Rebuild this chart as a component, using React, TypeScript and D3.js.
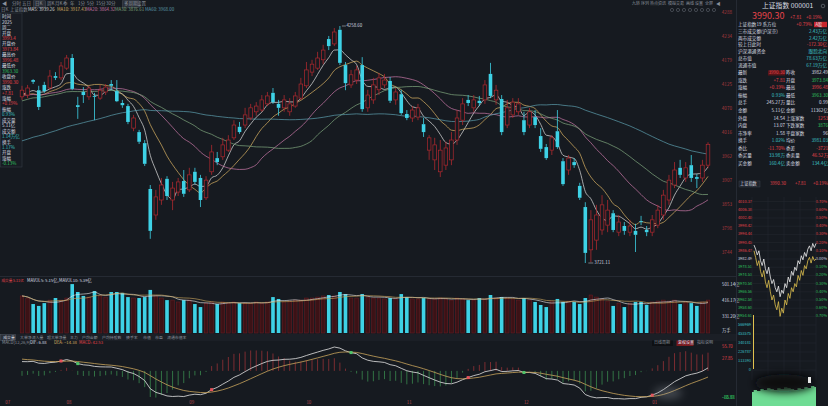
import React from "react";
import * as d3 from "d3";

const W = 828;
const H = 406;
const FONT = "'Noto Sans CJK SC', 'Noto Sans', sans-serif";

// daily candles: [open, high, low, close]
const ohlc: [number, number, number, number][] = [
  [4098, 4123, 4091, 4113], [4102, 4125, 4095, 4118], [4136, 4138, 4127, 4132], [4113, 4123, 4068, 4075],
  [4125, 4132, 4107, 4111], [4118, 4159, 4113, 4145], [4145, 4154, 4136, 4141], [4141, 4177, 4136, 4168],
  [4163, 4193, 4159, 4186], [4186, 4195, 4113, 4116], [4079, 4098, 4048, 4075], [4109, 4120, 4084, 4102],
  [4098, 4123, 4091, 4118], [4100, 4107, 4045, 4098], [4095, 4125, 4091, 4113], [4109, 4127, 4102, 4120],
  [4127, 4136, 4113, 4123], [4111, 4136, 4086, 4088], [4084, 4091, 4073, 4079], [4077, 4082, 4036, 4041],
  [4027, 4057, 4020, 4050], [4018, 4023, 3991, 3996], [3993, 4000, 3941, 3946], [3889, 3898, 3776, 3794],
  [3830, 3887, 3819, 3871], [3864, 3914, 3853, 3898], [3912, 3918, 3864, 3873], [3864, 3905, 3841, 3891],
  [3882, 3914, 3873, 3905], [3907, 3932, 3871, 3878], [3887, 3937, 3882, 3921], [3928, 3937, 3900, 3905],
  [3914, 3921, 3848, 3864], [3869, 3918, 3864, 3909], [3928, 3989, 3921, 3973], [3959, 3973, 3943, 3950],
  [3962, 4005, 3955, 3989], [3977, 4011, 3973, 4000], [4005, 4045, 4000, 4034], [4030, 4041, 4014, 4018],
  [4034, 4073, 4027, 4057], [4050, 4082, 4045, 4073], [4064, 4086, 4055, 4077], [4068, 4102, 4064, 4091],
  [4082, 4109, 4077, 4100], [4107, 4118, 4082, 4086], [4082, 4091, 4055, 4073], [4073, 4102, 4064, 4091],
  [4064, 4095, 4055, 4082], [4077, 4109, 4073, 4100], [4095, 4141, 4091, 4127], [4123, 4177, 4118, 4159],
  [4154, 4182, 4145, 4172], [4163, 4200, 4159, 4186], [4182, 4216, 4172, 4204], [4229, 4236, 4204, 4213],
  [4218, 4254, 4213, 4245], [4250, 4258.6, 4170, 4175], [4170, 4177, 4113, 4129], [4125, 4159, 4118, 4148],
  [4136, 4168, 4127, 4159], [4170, 4188, 4064, 4070], [4073, 4114, 4064, 4102], [4091, 4141, 4082, 4125],
  [4114, 4152, 4102, 4141], [4125, 4150, 4118, 4136], [4134, 4143, 4084, 4089], [4091, 4118, 4080, 4109],
  [4104, 4114, 4057, 4061], [4059, 4068, 4045, 4050], [4050, 4077, 4041, 4068], [4052, 4082, 4045, 4073],
  [4036, 4050, 4007, 4018], [3977, 4011, 3955, 4005], [3955, 4005, 3932, 3989], [3928, 4000, 3916, 3977],
  [3943, 3996, 3932, 3982], [3955, 4018, 3943, 4000], [4000, 4068, 3989, 4050], [4045, 4095, 4034, 4082],
  [4091, 4102, 4077, 4084], [4073, 4102, 4064, 4091], [4089, 4100, 4077, 4084], [4091, 4136, 4082, 4125],
  [4150, 4175, 4095, 4100], [4091, 4125, 4080, 4113], [4093, 4102, 4011, 4018], [4034, 4091, 4027, 4073],
  [4057, 4095, 4050, 4086], [4064, 4095, 4057, 4082], [4045, 4064, 4011, 4018], [4034, 4073, 4027, 4064],
  [4052, 4068, 4027, 4034], [4009, 4027, 3973, 3980], [3984, 3991, 3955, 3959], [3977, 4011, 3966, 4005],
  [4020, 4068, 3980, 3984], [3952, 3959, 3896, 3900], [3932, 3966, 3921, 3959], [3950, 3959, 3937, 3943],
  [3896, 3903, 3864, 3869], [3848, 3859, 3721.11, 3744], [3751, 3841, 3723, 3819], [3773, 3853, 3751, 3830],
  [3796, 3875, 3785, 3853], [3807, 3864, 3791, 3841], [3834, 3841, 3791, 3796], [3791, 3830, 3782, 3814],
  [3805, 3814, 3785, 3794], [3791, 3819, 3782, 3805], [3794, 3810, 3746, 3785], [3816, 3828, 3807, 3814],
  [3796, 3805, 3782, 3791], [3791, 3830, 3782, 3819], [3807, 3853, 3800, 3841], [3830, 3887, 3819, 3875],
  [3864, 3921, 3853, 3909], [3898, 3950, 3891, 3932], [3937, 3955, 3914, 3921], [3914, 3950, 3905, 3937],
  [3943, 3966, 3905, 3914], [3916, 3923, 3891, 3912], [3914, 3955, 3905, 3943], [3943, 3995, 3936, 3990.3],
];

// closes before the visible window (used only to warm up MA / MACD)
const preHistoryCloses: number[] = [
  3872, 3885, 3868, 3890, 3902, 3895, 3911, 3906, 3920, 3914,
  3898, 3905, 3923, 3930, 3918, 3909, 3894, 3902, 3915, 3928,
  3910, 3896, 3884, 3893, 3905, 3899, 3912, 3921, 3908, 3915,
  3968, 4012, 4035, 4058, 4049, 4066, 4071, 4082,
  4088, 4095, 4079, 4102, 4110, 4097, 4085, 4093, 4106, 4118,
  4101, 4089, 4096, 4112, 4120, 4104, 4091, 4086, 4099, 4108, 4095, 4103,
];

const volumes: number[] = [
  443, 432, 400, 390, 405, 421, 432, 421, 432, 506,
  464, 443, 437, 469, 443, 437, 464, 464, 459, 437,
  432, 432, 437, 475, 443, 432, 421, 421, 411, 421,
  421, 400, 384, 405, 411, 400, 411, 405, 411, 405,
  405, 405, 411, 405, 411, 437, 427, 411, 416, 421,
  421, 432, 432, 437, 443, 448, 443, 464, 453, 432,
  432, 453, 437, 432, 432, 427, 432, 427, 453, 437,
  427, 427, 432, 427, 427, 432, 427, 421, 432, 427,
  421, 421, 432, 427, 448, 432, 437, 432, 427, 421,
  432, 421, 411, 395, 384, 416, 427, 411, 416, 411,
  400, 432, 448, 437, 427, 416, 390, 405, 384, 405,
  411, 411, 395, 411, 416, 421, 416, 421, 400, 411,
  405, 390, 411, 421,
];
const volBase = 246.2;
const volTicks = [501.14, 416.17, 331.2];
const volTickLabels = ["501.14亿", "416.17亿", "331.20亿", "万手"];

const priceTicks = [4288.1, 4233.7, 4179.2, 4124.8, 4070.4, 4015.9, 3961.5, 3907.1, 3852.7, 3798.2, 3743.8];

const xTickIdx = [-3, 8, 30, 51, 69, 90, 113];
const xTickLabels = ["07", "08", "09", "10", "11", "12", "01"];

const maPeriods = [5, 10, 20, 30, 60];
const maColors = ["#dedede", "#d6b062", "#c777a6", "#7ea47c", "#5b9cab"];

const volMaPeriods = [5, 10];
const volMaColors = ["#e6e6e6", "#c9a45c"];

// intraday (percent change vs. previous close)
const prevClose = 3982.49;
const intradayWhite = [0.17, 0.12, 0.05, 0.1, -0.02, -0.08, 0.0, -0.12, -0.18, -0.1, -0.22, -0.3, -0.25, -0.35, -0.4, -0.33, -0.46, -0.38, -0.42, -0.3, -0.35, -0.22, -0.28, -0.15, -0.2, -0.1, -0.14, -0.02, -0.06, 0.04, -0.01, 0.08, 0.03, 0.12, 0.16, 0.1, 0.19, 0.14, 0.19];
const intradayYellow = [0.1, 0.02, -0.08, -0.02, -0.15, -0.22, -0.14, -0.28, -0.35, -0.26, -0.4, -0.5, -0.44, -0.56, -0.62, -0.52, -0.7, -0.6, -0.66, -0.5, -0.56, -0.42, -0.48, -0.35, -0.4, -0.3, -0.34, -0.2, -0.26, -0.14, -0.2, -0.08, -0.12, -0.02, 0.02, -0.05, 0.03, -0.02, 0.0];
const intradayPctTicks = [0.7, 0.6, 0.5, 0.4, 0.3, 0.2, 0.1, 0, -0.1, -0.2, -0.3, -0.4, -0.5, -0.6, -0.7];
const bottomGreen = [14, 16, 15, 17, 16, 18, 17, 16, 18, 17, 19, 18, 17, 16, 18, 17, 19, 18, 20, 19];

const leftPanelRows: [string, string][] = [
  ["时间", "w"], ["2025", "w"], ["周二", "w"], ["开盘", "w"], ["3993.4", "r"], ["开盘价", "w"], ["3973.84", "r"],
  ["最高价", "w"], ["3996.48", "r"], ["最低价", "w"], ["3963.30", "g"], ["收盘价", "w"], ["3990.30", "r"],
  ["涨跌", "w"], ["+7.81", "r"], ["涨幅", "w"], ["+0.19%", "r"], ["振幅", "w"], ["0.93%", "c"], ["成交量", "w"],
  ["5.11亿", "w"], ["成交额", "w"], ["1.14万亿", "c"], ["换手", "w"], ["1.17%", "c"], ["开盘", "w"], ["涨幅", "w"], ["-0.13%", "g"],
];

const toolbarItems = ["分时", "五日", "日K", "周K", "月K", "季", "年", "1分", "5分", "15分", "30分", "多周期", "设置"];
const toolbarRight = ["九转", "序列", "热点资讯", "模拟交易", "画线", "设置", "全屏"];

const tabItems = ["成交量", "大单净流入量", "超大单净量", "主力", "户均金额", "户均持股数", "换手率", "市值", "市盈", "流通市值率"];

const quoteTop: [string, string, string][] = [
  ["上证指数19 系方位", "+0.79%", "r"],
  ["三市成交额(沪深京)", "2.43万亿", "c"],
  ["两市成交额", "2.42万亿", "c"],
  ["较上日此时", "-172.30亿", "r"],
  ["沪深港通资金", "跟踪北向", "c"],
  ["总市值", "78.63万亿", "c"],
  ["流通市值", "67.19万亿", "c"],
];
const quoteGrid: [string, string, string, string, string, string][] = [
  ["最新", "3990.30", "r", "昨收", "3982.49", "w"],
  ["涨跌", "+7.81", "r", "开盘", "3973.84", "g"],
  ["涨幅", "+0.19%", "r", "最高", "3996.48", "r"],
  ["振幅", "0.93%", "c", "最低", "3963.30", "g"],
  ["总手", "245.27万", "w", "量比", "0.99", "w"],
  ["金额", "5.11亿", "w", "金额", "11362亿", "w"],
  ["外盘", "14.54", "w", "上涨家数", "1253", "r"],
  ["内盘", "13.07", "w", "下跌家数", "3876", "g"],
  ["市净率", "1.58", "w", "平盘家数", "96", "w"],
  ["换手", "1.02%", "c", "均价", "3981.03", "c"],
  ["委比", "-11.70%", "r", "委差", "-3721", "r"],
  ["委买量", "33.98万", "c", "委卖量", "46.52万", "r"],
  ["买金额", "160.4亿", "c", "卖金额", "134.4亿", "c"],
];
const intradayVolLabels = ["566969", "453575", "340181", "226787", "113393", "0"];

const BG = "#161a20";
const RED = "#e5434a";
const CANDLE_RED = "#b0292f";
const GREEN = "#2fc05f";
const CYAN = "#3ed2e6";
const WHITE = "#d9dce1";
const GRAY = "#8b919b";
const TEAL = "#3cc2c8";
const colorOf = (c: string) => (c === "r" ? RED : c === "g" ? GREEN : c === "c" ? TEAL : WHITE);

function sma(all: number[], offset: number, p: number, n: number) {
  const out: number[] = [];
  for (let i = 0; i < n; i++) {
    const end = offset + i;
    const start = Math.max(0, end - p + 1);
    out.push(d3.mean(all.slice(start, end + 1)) as number);
  }
  return out;
}

const T = (p: any) => (
  <text fontFamily={FONT} fontSize={p.fs ?? 4.8} fill={p.fill ?? WHITE} x={p.x} y={p.y} textAnchor={p.anchor ?? "start"} dominantBaseline="middle" fontWeight={p.bold ? 700 : 400}>
    {p.children}
  </text>
);

export default function App() {
  const N = ohlc.length;
  const closes = ohlc.map((d) => d[3]);
  const x = d3.scaleLinear().domain([0, N - 1]).range([22, 708]);
  const pLow = d3.min(ohlc, (d) => d[2]) as number;
  const pHigh = d3.max(ohlc, (d) => d[1]) as number;
  const y = d3.scaleLinear().domain([pLow, pHigh]).range([263, 26]);
  const bw = 3.6;

  const all = preHistoryCloses.concat(closes);
  const mas = maPeriods.map((p) => sma(all, preHistoryCloses.length, p, N));
  const maLine = d3.line<number>().x((_, i) => x(i)).y((v) => y(v)).curve(d3.curveMonotoneX);

  // volume
  const vy = d3.scaleLinear().domain([volBase, volTicks[0]]).range([333, 285]);
  const volMas = volMaPeriods.map((p) => sma(volumes, 0, p, N));
  const volLine = d3.line<number>().x((_, i) => x(i)).y((v) => vy(v)).curve(d3.curveMonotoneX);

  // MACD
  let e12 = all[0], e26 = all[0], dea = 0;
  const difA: number[] = [], deaA: number[] = [];
  all.forEach((c, k) => {
    if (k > 0) {
      e12 = (e12 * 11) / 13 + (c * 2) / 13;
      e26 = (e26 * 25) / 27 + (c * 2) / 27;
    }
    const dif = e12 - e26;
    dea = (dea * 8) / 10 + (dif * 2) / 10;
    difA.push(dif);
    deaA.push(dea);
  });
  const dif = difA.slice(preHistoryCloses.length);
  const deaV = deaA.slice(preHistoryCloses.length);
  const bar = dif.map((d, i) => 2 * (d - deaV[i]));
  const mExt = d3.extent([...dif, ...deaV, ...bar]) as [number, number];
  const my = d3.scaleLinear().domain(mExt).range([399, 347]);
  const mLine = d3.line<number>().x((_, i) => x(i)).y((v) => my(v));
  const crosses: { i: number; up: boolean }[] = [];
  for (let i = 1; i < N; i++) {
    const a = dif[i - 1] - deaV[i - 1], b = dif[i] - deaV[i];
    if (a < 0 && b >= 0) crosses.push({ i, up: true });
    if (a > 0 && b <= 0) crosses.push({ i, up: false });
  }

  const f2 = d3.format(".2f");
  const hiIdx = ohlc.findIndex((d) => d[1] === pHigh);
  const loIdx = ohlc.findIndex((d) => d[2] === pLow);

  // intraday
  const ix = d3.scaleLinear().domain([0, intradayWhite.length - 1]).range([754, 816]);
  const iy = d3.scaleLinear().domain([-0.7, 0.7]).range([316.4, 201.6]);
  const iLine = d3.line<number>().x((_, i) => ix(i)).y((v) => iy(v));
  const gx = d3.scaleLinear().domain([0, bottomGreen.length - 1]).range([752, 816]);
  const gArea = d3.area<number>().x((_, i) => gx(i)).y0(406).y1((v) => 406 - v).curve(d3.curveStep);

  const toolbarX = [12, 22, 35, 47, 55, 63, 70, 78, 87, 96, 106, 124, 137];
  const toolbarRX = [632, 641, 650, 668, 686, 695, 705];
  const tabX = [2, 20, 47, 70, 82, 102, 126, 143, 155, 167];
  const maLegendX = [28, 57, 86, 115, 145];

  return (
    <div style={{ position: "fixed", left: 0, top: 0, width: W, height: H }}>
      <svg width={W} height={H} viewBox={`0 0 ${W} ${H}`} style={{ display: "block", background: BG }}>
        <defs>
          <filter id="blur4" x="-50%" y="-50%" width="200%" height="200%">
            <feGaussianBlur stdDeviation="4" />
          </filter>
        </defs>
        <rect x={0} y={0} width={W} height={H} fill={BG} />

        {/* top toolbar */}
        <T x={2} y={4} fill={GRAY} fs={5}>◀</T>
        {toolbarItems.map((t, i) => (
          <g key={"tb" + i}>
            {(t === "日K" || t === "多周期") && <rect x={toolbarX[i] - 1.5} y={0.8} width={t.length * 4.6 + 3} height={6.4} fill="#2b3038" stroke="#555b66" strokeWidth={0.4} />}
            <T x={toolbarX[i]} y={4} fill={GRAY} fs={4.5}>{t}</T>
          </g>
        ))}
        {toolbarRight.map((t, i) => (
          <T key={"tr" + i} x={toolbarRX[i]} y={3.5} fill={GRAY} fs={4}>{t}</T>
        ))}
        <T x={716} y={3.5} fill={GRAY} fs={4.5}>◀</T>
        {[672, 678, 684, 690, 696, 702, 708, 714].map((cx, i) => (
          <circle key={"ic" + i} cx={cx} cy={10} r={1.6} fill="none" stroke="#6d737d" strokeWidth={0.5} />
        ))}

        {/* MA legend */}
        <T x={1} y={10} fill={GRAY} fs={4.4}>日K</T>
        <T x={10} y={10} fill={GRAY} fs={4.4}>上证指数</T>
        {maPeriods.map((p, k) => (
          <T key={"ml" + k} x={maLegendX[k]} y={10} fill={maColors[k]} fs={4.4}>{`MA${p}: ${f2(mas[k][N - 1])}`}</T>
        ))}

        {/* left info panel */}
        <rect x={0.5} y={13} width={21.5} height={154} fill="#181c23" stroke="#3a404a" strokeWidth={0.5} />
        {leftPanelRows.map(([t, c], i) => (
          <T key={"lp" + i} x={2} y={17 + i * 5.45} fill={colorOf(c)} fs={4.5}>{t}</T>
        ))}

        {/* moving averages */}
        {mas.map((m, k) => (
          <path key={"ma" + k} d={maLine(m) as string} fill="none" stroke={maColors[k]} strokeWidth={0.8} opacity={0.9} />
        ))}

        {/* candles */}
        {ohlc.map(([o, h, l, c], i) => {
          const up = c >= o;
          const col = up ? CANDLE_RED : CYAN;
          const top = y(Math.max(o, c));
          const bot = y(Math.min(o, c));
          const cx = x(i);
          return (
            <g key={"c" + i}>
              <line x1={cx} x2={cx} y1={y(h)} y2={top} stroke={col} strokeWidth={0.8} />
              <line x1={cx} x2={cx} y1={bot} y2={y(l)} stroke={col} strokeWidth={0.8} />
              {up ? (
                <rect x={cx - bw / 2} y={top} width={bw} height={Math.max(0.8, bot - top)} fill={BG} stroke={col} strokeWidth={0.7} />
              ) : (
                <rect x={cx - bw / 2} y={top} width={bw} height={Math.max(0.9, bot - top)} fill={col} />
              )}
            </g>
          );
        })}

        {/* high / low markers */}
        <line x1={x(hiIdx) + 2} x2={x(hiIdx) + 6} y1={y(pHigh)} y2={y(pHigh)} stroke={WHITE} strokeWidth={0.5} />
        <T x={x(hiIdx) + 6.5} y={y(pHigh)} fs={4.4} fill={WHITE}>{f2(pHigh)}</T>
        <line x1={x(loIdx) + 3} x2={x(loIdx) + 8} y1={y(pLow)} y2={y(pLow)} stroke={WHITE} strokeWidth={0.5} />
        <T x={x(loIdx) + 9} y={y(pLow)} fs={4.4} fill={WHITE}>{f2(pLow)}</T>

        {/* price axis labels */}
        {priceTicks.map((v, i) => (
          <T key={"pt" + i} x={732} y={y(v)} anchor="end" fill="#a8393d" fs={4.6}>{d3.format(".0f")(v)}</T>
        ))}

        {/* separators */}
        <line x1={0} x2={736} y1={276.5} y2={276.5} stroke="#2a2f38" strokeWidth={0.8} />

        {/* volume panel */}
        <T x={1.5} y={281} fill={RED} fs={3.6}>成交量 5.11亿</T>
        <T x={27} y={281} fill={WHITE} fs={4.2}>MAVOL5: 5.15亿,</T>
        <T x={59} y={281} fill={WHITE} fs={4.2}>MAVOL10: 5.39亿</T>
        {volumes.map((v, i) => {
          const [o, , , c] = ohlc[i];
          const up = c >= o;
          const top = vy(v);
          return up ? (
            <rect key={"v" + i} x={x(i) - bw / 2} y={top} width={bw} height={vy(volBase) - top} fill="#3b1216" stroke="#6e1f24" strokeWidth={0.5} />
          ) : (
            <rect key={"v" + i} x={x(i) - bw / 2} y={top} width={bw} height={vy(volBase) - top} fill={CYAN} />
          );
        })}
        {volMas.map((m, k) => (
          <path key={"vm" + k} d={volLine(m) as string} fill="none" stroke={volMaColors[k]} strokeWidth={0.7} opacity={0.9} />
        ))}
        {volTicks.map((v, i) => (
          <T key={"vt" + i} x={722} y={vy(v)} fill={WHITE} fs={4.3}>{volTickLabels[i]}</T>
        ))}
        <T x={722} y={vy(volBase) - 2} fill={WHITE} fs={4.3}>{volTickLabels[3]}</T>

        {/* tabs */}
        <rect x={0} y={334} width={736} height={7} fill="#1b1f26" />
        {tabItems.map((t, i) => (
          <g key={"tab" + i}>
            {i === 0 && <rect x={0.5} y={334.5} width={15} height={6} fill="#2b3038" stroke="#5b616c" strokeWidth={0.4} />}
            <T x={tabX[i] + (i === 0 ? 1.2 : 0)} y={337.6} fill={i === 0 ? WHITE : GRAY} fs={3.9}>{t}</T>
          </g>
        ))}
        <rect x={652} y={340.5} width={21} height={5.5} fill="#0e1014" />
        <T x={654} y={343.3} fill={GRAY} fs={4}>日线周期</T>
        <rect x={676.5} y={340.5} width={17} height={5.5} fill="#7a1a1d" />
        <T x={678} y={343.3} fill={WHITE} fs={4}>复权设置</T>
        <T x={697} y={343.3} fill={GRAY} fs={4}>指标说明</T>

        {/* MACD */}
        <T x={2} y={343} fill={GRAY} fs={4.2}>MACD(12,26,9)</T>
        <T x={30} y={343} fill={WHITE} fs={4.2}>{`DIF: ${f2(dif[N - 1])}`}</T>
        <T x={54} y={343} fill="#d6b062" fs={4.2}>{`DEA: ${f2(deaV[N - 1])}`}</T>
        <T x={79} y={343} fill={bar[N - 1] >= 0 ? RED : GREEN} fs={4.2}>{`MACD: ${f2(bar[N - 1])}`}</T>
        {bar.map((b, i) => (
          <line key={"mb" + i} x1={x(i)} x2={x(i)} y1={my(0)} y2={my(b)} stroke={b >= 0 ? "#a8353a" : "#3f9a55"} strokeWidth={0.7} />
        ))}
        <path d={mLine(dif) as string} fill="none" stroke="#e3e3e3" strokeWidth={0.8} />
        <path d={mLine(deaV) as string} fill="none" stroke="#c9a45c" strokeWidth={0.8} />
        {crosses.map((c, k) => (
          <rect key={"cr" + k} x={x(c.i) - 1.5} y={my(dif[c.i]) - 1.5} width={3} height={3} fill={c.up ? "#e5525a" : "#4fc46a"} />
        ))}
        <T x={722} y={my(mExt[1])} fill={RED} fs={4.3}>{f2(mExt[1])}</T>
        <T x={722} y={my(mExt[1] / 2)} fill={RED} fs={4.3}>{f2(mExt[1] / 2)}</T>
        <T x={722} y={my(mExt[0]) - 1} fill={GREEN} fs={4.3}>{f2(mExt[0])}</T>
        <ellipse cx={668} cy={393} rx={14} ry={6} fill="#9aa0a8" opacity={0.35} filter="url(#blur4)" />

        {/* x axis */}
        {xTickIdx.map((idx, k) => (
          <T key={"xt" + k} x={x(idx)} y={402.5} fill="#b5484d" fs={4.4}>{xTickLabels[k]}</T>
        ))}

        {/* right panel */}
        <line x1={736.5} x2={736.5} y1={0} y2={H} stroke="#2a2f38" strokeWidth={0.8} />
        <text x={762} y={6} fontFamily={FONT} fontSize={6.8} fill={WHITE} dominantBaseline="middle">上证指数 000001</text>
        <circle cx={823} cy={6} r={1.8} fill="none" stroke={GRAY} strokeWidth={0.5} />
        <text x={752} y={17} fontFamily={FONT} fontSize={9} fill={RED} dominantBaseline="middle">3990.30</text>
        <T x={790} y={17.5} fill={RED} fs={4.6}>+7.81</T>
        <T x={806} y={17.5} fill={RED} fs={4.6}>+0.19%</T>
        {quoteTop.map(([l, v, c], i) => (
          <g key={"qt" + i}>
            <T x={738} y={24.5 + i * 6.9} fs={4.6} fill={WHITE}>{l}</T>
            <T x={i === 0 ? 812 : 827} y={24.5 + i * 6.9} anchor="end" fs={4.6} fill={colorOf(c)}>{v}</T>
          </g>
        ))}
        <rect x={814} y={21.8} width={13} height={5.4} fill="#c8262c" />
        <T x={815.5} y={24.6} fs={4.2} fill={WHITE}>A股</T>
        {quoteGrid.map(([l1, v1, c1, l2, v2, c2], i) => (
          <g key={"qg" + i}>
            <T x={738} y={73 + i * 7.55} fs={4.6} fill={WHITE}>{l1}</T>
            {i === 0 && <rect x={768} y={70.5} width={17} height={5} fill="#5a1518" />}
            <T x={785} y={73 + i * 7.55} anchor="end" fs={4.6} fill={colorOf(c1)}>{v1}</T>
            <T x={786} y={73 + i * 7.55} fs={4.6} fill={WHITE}>{l2}</T>
            <T x={828} y={73 + i * 7.55} anchor="end" fs={4.6} fill={colorOf(c2)}>{v2}</T>
          </g>
        ))}

        {/* intraday mini chart */}
        <rect x={739} y={181} width={21} height={6} fill="#1f242c" stroke="#444a55" strokeWidth={0.4} />
        <T x={740} y={184} fs={4.2} fill={WHITE}>上证指数</T>
        <T x={770} y={184} fs={4.4} fill={RED}>3990.30</T>
        <T x={795} y={184} fs={4.4} fill={RED}>+7.81</T>
        <T x={813} y={184} fs={4.4} fill={RED}>+0.19%</T>
        {intradayPctTicks.map((p, i) => (
          <g key={"ipt" + i}>
            <line x1={752} x2={816} y1={iy(p)} y2={iy(p)} stroke="#262b33" strokeWidth={0.5} />
            <T x={752} y={iy(p)} anchor="end" fs={3.9} fill={p > 0 ? RED : p < 0 ? GREEN : WHITE}>{f2(prevClose * (1 + p / 100))}</T>
            <T x={827} y={iy(p)} anchor="end" fs={3.9} fill={p > 0 ? RED : p < 0 ? GREEN : WHITE}>{f2(Math.abs(p)) + "%"}</T>
          </g>
        ))}
        {[752, 768, 784, 800, 816].map((gxp, i) => (
          <line key={"ivg" + i} x1={gxp} x2={gxp} y1={197} y2={380} stroke="#262b33" strokeWidth={0.5} />
        ))}
        <path d={iLine(intradayYellow) as string} fill="none" stroke="#e0c24e" strokeWidth={0.8} />
        <path d={iLine(intradayWhite) as string} fill="none" stroke="#f0f0f0" strokeWidth={0.8} />

        {/* intraday volume */}
        {intradayVolLabels.map((t, i) => (
          <g key={"ivl" + i}>
            <line x1={752} x2={816} y1={325 + i * 9} y2={325 + i * 9} stroke="#262b33" strokeWidth={0.5} />
            <T x={751} y={325 + i * 9} anchor="end" fs={3.9} fill={TEAL}>{t}</T>
          </g>
        ))}
        <line x1={753.5} x2={753.5} y1={315} y2={369} stroke="#e0c24e" strokeWidth={1} />
        <path d={gArea(bottomGreen) as string} fill="#6fdc94" />
        <ellipse cx={784} cy={383} rx={30} ry={9} fill="#07090b" filter="url(#blur4)" />
        <rect x={808} y={377} width={3} height={6} fill="#e8e8e8" />
        <T x={722} y={398} fs={4.3} fill={GREEN}>-10.39</T>
      </svg>
    </div>
  );
}
